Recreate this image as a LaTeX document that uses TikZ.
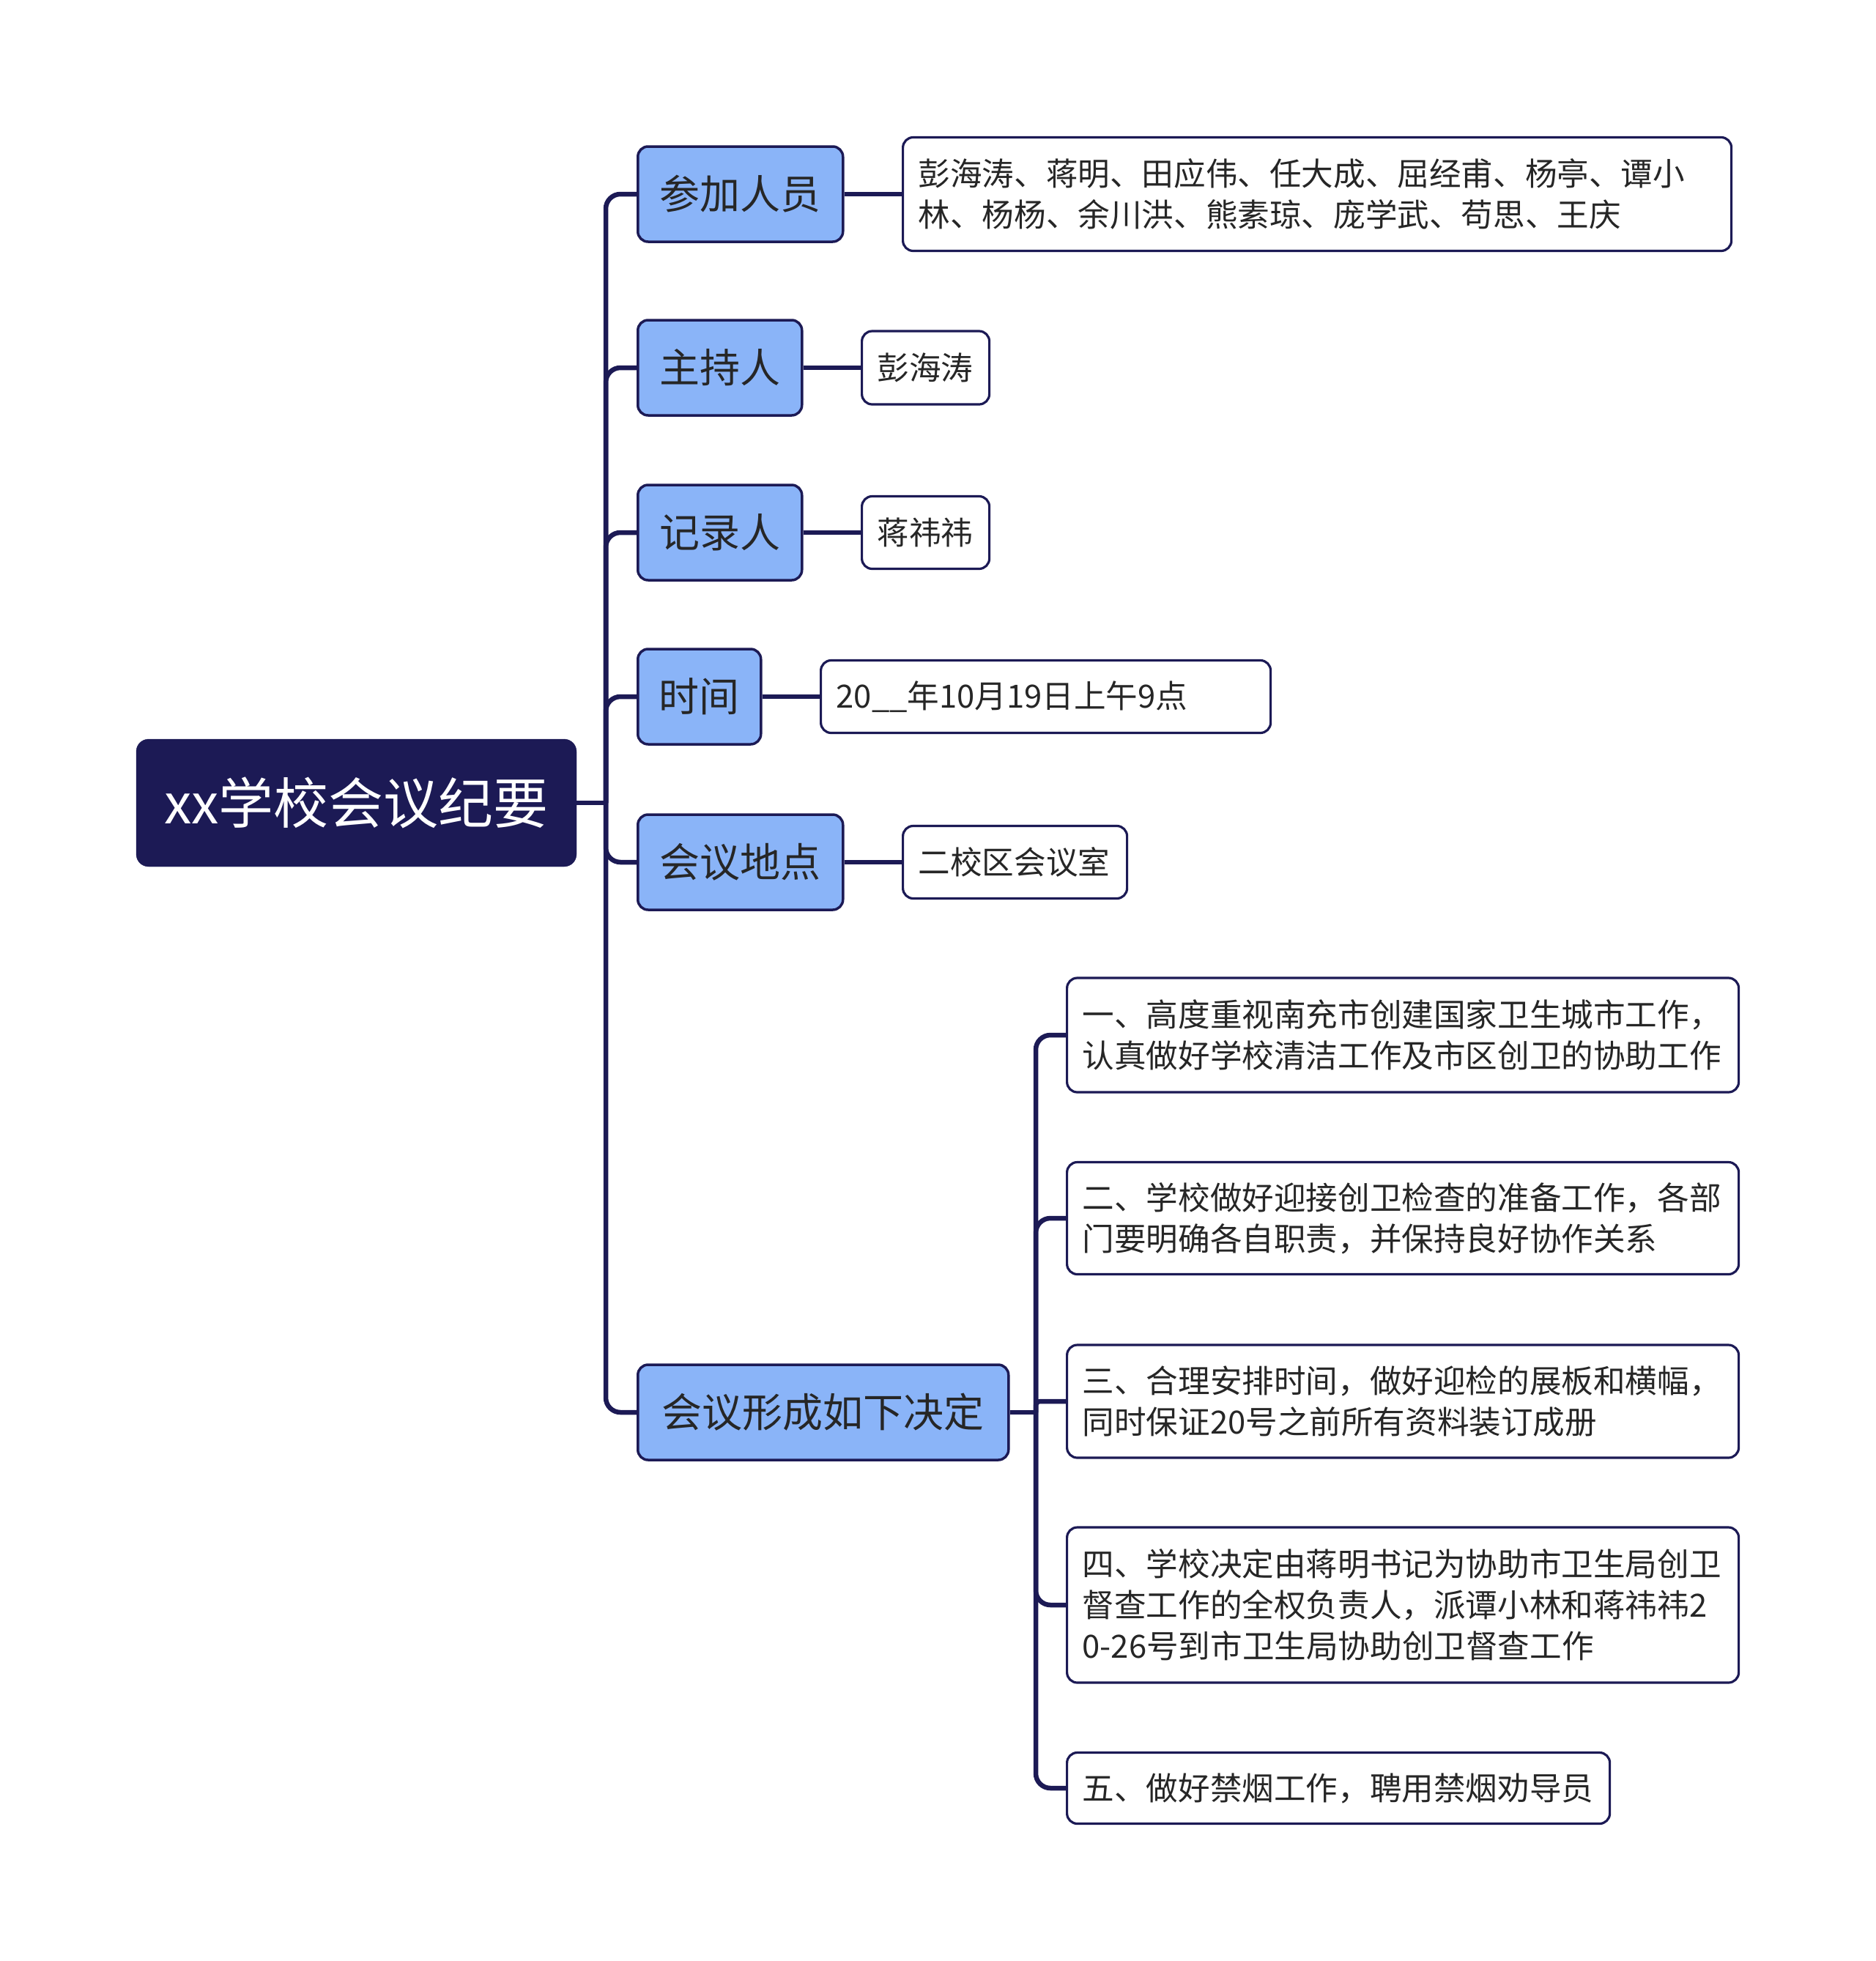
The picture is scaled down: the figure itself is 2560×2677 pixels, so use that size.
\documentclass[tikz,border=0pt]{standalone}
\usepackage{fontspec}
\setmainfont{Noto Sans CJK SC}
\definecolor{navy}{HTML}{1C1A55}
\definecolor{lblue}{HTML}{8AB4F8}
\definecolor{txt}{HTML}{262626}
\begin{document}
\begin{tikzpicture}[x=1pt,y=-1pt,
  conn/.style={draw=navy, line width=6.5pt},
  rootbox/.style={fill=navy, draw=navy, rounded corners=17pt, text=white,
    font=\fontsize{75}{80}\selectfont, minimum height=174pt, minimum width=601pt, inner sep=0pt},
  lvone/.style={fill=lblue, draw=navy, line width=3.5pt, rounded corners=14pt,
    font=\fontsize{55}{60}\selectfont, text=txt, minimum height=130pt, inner sep=0pt, anchor=west},
  lvtwo/.style={fill=white, draw=navy, line width=3.2pt, rounded corners=14pt,
    font=\fontsize{43.6}{56}\selectfont, text=txt, inner xsep=21pt, inner ysep=0pt,
    align=left, anchor=west}
]
\useasboundingbox (0,0) rectangle (2560,2677);

% root
\node[rootbox] (root) at (486.5,1096) {xx学校会议纪要};

% level one
\node[lvone, minimum width=280pt] (a) at (869,265) {参加人员};
\node[lvone, minimum width=224pt] (b) at (869,502) {主持人};
\node[lvone, minimum width=224pt] (c) at (869,727) {记录人};
\node[lvone, minimum width=168pt] (d) at (869,951) {时间};
\node[lvone, minimum width=280pt] (e) at (869,1177) {会议地点};
\node[lvone, minimum width=506pt] (f) at (869,1928) {会议形成如下决定};

% level two
\node[lvtwo, text width=1089pt, minimum height=155pt] (a1) at (1231,265)
  {彭海涛、蒋明、田应伟、任大成、屈经甫、杨亭、谭小\\林、杨杨、余川洪、熊素琼、庞学武、苟思、王庆};
\node[lvtwo, text width=132pt, minimum height=100pt] (b1) at (1175,502) {彭海涛};
\node[lvtwo, text width=132pt, minimum height=99pt] (c1) at (1175,727) {蒋祎祎};
\node[lvtwo, text width=572pt, minimum height=99pt] (d1) at (1119,951) {20\_\_年10月19日上午9点};
\node[lvtwo, text width=264pt, minimum height=99pt] (e1) at (1231,1177) {二校区会议室};

\node[lvtwo, text width=875pt, minimum height=156pt] (f1) at (1455,1413)
  {一、高度重视南充市创建国家卫生城市工作，\\认真做好学校清洁工作及市区创卫的协助工作};
\node[lvtwo, text width=875pt, minimum height=153pt] (f2) at (1455,1663)
  {二、学校做好迎接创卫检查的准备工作，各部\\门要明确各自职责，并保持良好协作关系};
\node[lvtwo, text width=875pt, minimum height=154pt] (f3) at (1455,1913)
  {三、合理安排时间，做好迎检的展板和横幅，\\同时保证20号之前所有资料装订成册};
\node[lvtwo, text width=875pt, minimum height=212pt] (f4) at (1455,2191)
  {四、学校决定由蒋明书记为协助市卫生局创卫\\督查工作的全权负责人，派谭小林和蒋祎祎2\\0-26号到市卫生局协助创卫督查工作};
\node[lvtwo, text width=699pt, minimum height=97pt] (f5) at (1455,2441)
  {五、做好禁烟工作，聘用禁烟劝导员};

% connectors root -> level one
\coordinate (t) at (827,1096);
\draw[conn] (root.east) -- (t);
\foreach \n in {a,b,c,d,e,f} \draw[conn, rounded corners=20pt] (t) |- (\n.west);

% level one -> level two
\draw[conn] (a.east) -- (a1.west);
\draw[conn] (b.east) -- (b1.west);
\draw[conn] (c.east) -- (c1.west);
\draw[conn] (d.east) -- (d1.west);
\draw[conn] (e.east) -- (e1.west);

% decisions
\coordinate (u) at (1414,1928);
\draw[conn] (f.east) -- (u);
\foreach \n in {f1,f2,f4,f5} \draw[conn, rounded corners=20pt] (u) |- (\n.west);
\draw[conn, rounded corners=6pt] (u) |- (f3.west);
\end{tikzpicture}
\end{document}
